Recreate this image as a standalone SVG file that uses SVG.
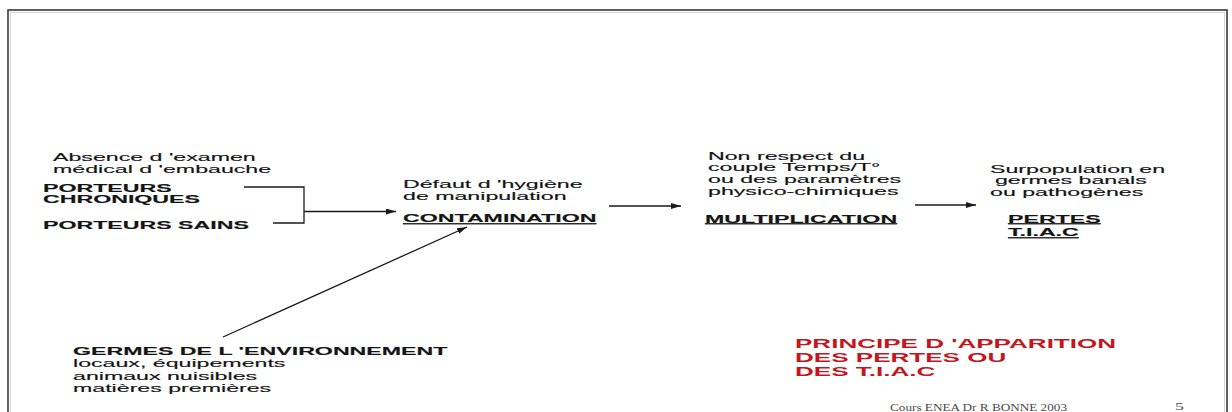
<svg xmlns="http://www.w3.org/2000/svg" width="1232" height="412" viewBox="0 0 1232 412">
  <style>
    .t { font-family: "Liberation Sans", Arial, sans-serif; font-size: 11.8px; fill: #141414; stroke: #141414; stroke-width: 0.15; }
    .b { font-weight: bold; }
    .u { text-decoration: underline; }
    .red { font-family: "Liberation Sans", Arial, sans-serif; font-size: 13.5px; font-weight: bold; fill: #c4161c; }
    .foot { font-family: "Liberation Serif", "Times New Roman", serif; font-size: 10.5px; fill: #4a4a4a; }
    .ln { stroke: #1a1a1a; stroke-width: 1.3; fill: none; }
  </style>
  <defs>
    <marker id="ah" viewBox="0 0 10 6" refX="10" refY="3" markerWidth="10" markerHeight="6" markerUnits="userSpaceOnUse" orient="auto">
      <path d="M0,0 L10,3 L0,6 z" fill="#1a1a1a"/>
    </marker>
  </defs>

  <rect width="1232" height="412" fill="#ffffff"/>

  <!-- slide frame -->
  <g id="frame">
    <rect x="8" y="10" width="1219" height="420" fill="none" stroke="#3a3a3a" stroke-width="1.6"/>
    <rect x="10.5" y="12.5" width="1214" height="420" fill="none" stroke="#d4d4d4" stroke-width="1"/>
  </g>

  <!-- sources: carriers -->
  <g id="porteurs">
    <g transform="translate(53,160.5) scale(1.965,1)">
      <text class="t" x="0" y="0">Absence d 'examen</text>
      <text class="t" x="0" y="12.5">médical d 'embauche</text>
    </g>
    <g transform="translate(43,192) scale(1.965,1)">
      <text class="t b" x="0" y="0">PORTEURS</text>
      <text class="t b" x="0" y="11.5">CHRONIQUES</text>
      <text class="t b" x="0" y="37">PORTEURS SAINS</text>
    </g>
  </g>

  <!-- step 1 -->
  <g id="contamination">
    <g transform="translate(403,188) scale(1.965,1)">
      <text class="t" x="0" y="0">Défaut d 'hygiène</text>
      <text class="t" x="0" y="12.5">de manipulation</text>
      <text class="t b u" x="0" y="34.5">CONTAMINATION</text>
    </g>
  </g>

  <!-- step 2 -->
  <g id="multiplication">
    <g transform="translate(708,159.5) scale(1.965,1)">
      <text class="t" x="0" y="0">Non respect du</text>
      <text class="t" x="0" y="12">couple  Temps/T°</text>
      <text class="t" x="0" y="24">ou des paramètres</text>
      <text class="t" x="0" y="36">physico-chimiques</text>
    </g>
    <g transform="translate(705,222.5) scale(1.965,1)">
      <text class="t b u" x="0" y="0">MULTIPLICATION</text>
    </g>
  </g>

  <!-- outcome -->
  <g id="pertes">
    <g transform="translate(990,172.5) scale(1.965,1)">
      <text class="t" x="0" y="0">Surpopulation en</text>
      <text class="t" x="2.5" y="12">germes banals</text>
      <text class="t" x="0" y="24">ou pathogènes</text>
    </g>
    <g transform="translate(1008,222.5) scale(1.965,1)">
      <text class="t b u" x="0" y="0">PERTES</text>
      <text class="t b u" x="0" y="14">T.I.A.C</text>
    </g>
  </g>

  <!-- environmental source -->
  <g id="germes">
    <g transform="translate(73,355) scale(1.965,1)">
      <text class="t b" x="0" y="0">GERMES DE L 'ENVIRONNEMENT</text>
      <text class="t" x="0" y="12.5">locaux, équipements</text>
      <text class="t" x="0" y="25">animaux nuisibles</text>
      <text class="t" x="0" y="37.5">matières premières</text>
    </g>
  </g>

  <!-- title -->
  <g id="titre">
    <g transform="translate(795,348) scale(1.93,1)">
      <text class="red" x="0" y="0">PRINCIPE D 'APPARITION</text>
      <text class="red" x="0" y="14">DES PERTES OU</text>
      <text class="red" x="0" y="28">DES T.I.A.C</text>
    </g>
  </g>

  <!-- footer -->
  <g id="footer">
    <text class="foot" x="890" y="411" textLength="177" lengthAdjust="spacingAndGlyphs">Cours ENEA Dr R BONNE  2003</text>
    <text class="foot" x="1175" y="410" textLength="9" lengthAdjust="spacingAndGlyphs">5</text>
  </g>

  <!-- connectors -->
  <g id="connectors">
    <polyline class="ln" points="244,187 304,187 304,223 273,223"/>
    <line class="ln" x1="304" y1="211.5" x2="396" y2="211.5" marker-end="url(#ah)"/>
    <line class="ln" x1="223" y1="337" x2="467" y2="227" marker-end="url(#ah)"/>
    <line class="ln" x1="609" y1="206" x2="681" y2="206" marker-end="url(#ah)"/>
    <line class="ln" x1="915" y1="205" x2="976" y2="205" marker-end="url(#ah)"/>
  </g>
</svg>
